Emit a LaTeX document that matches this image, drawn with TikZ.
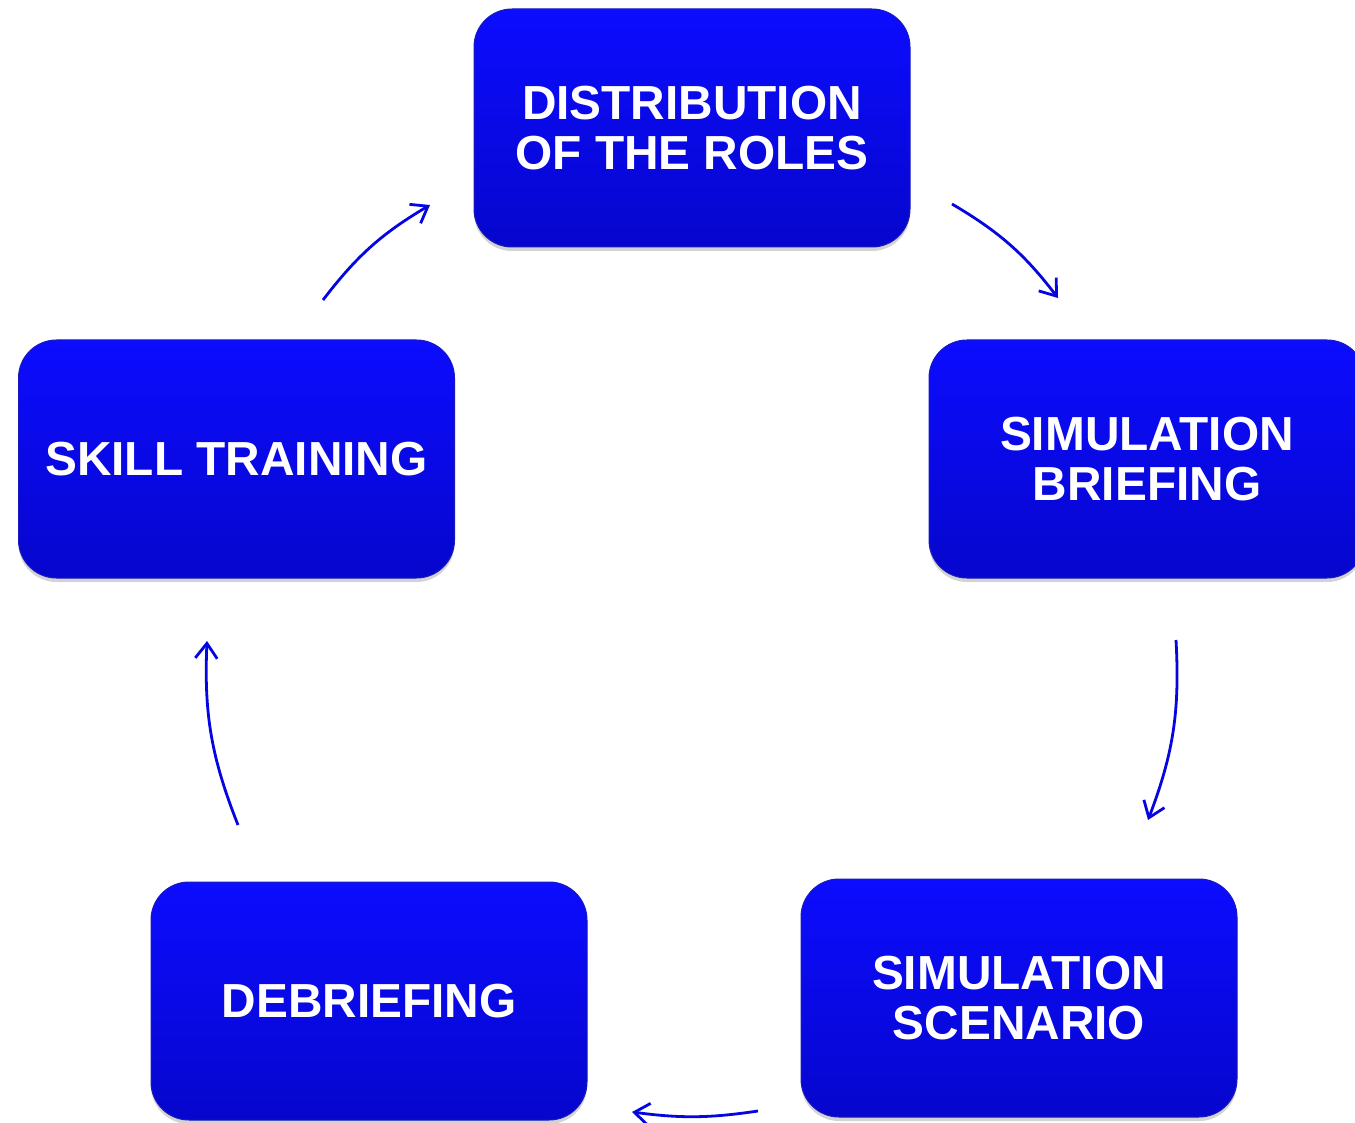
\documentclass[tikz,border=0pt]{standalone}
\usepackage{fontspec}
\setmainfont{Liberation Sans}
\usetikzlibrary{arrows.meta,shadows}
\definecolor{boxtop}{RGB}{12,12,255}
\definecolor{boxbot}{RGB}{6,6,205}
\definecolor{boxedge}{RGB}{25,25,190}
\definecolor{arrowc}{RGB}{5,5,225}
\tikzset{
  stagebox/.style={rounded corners=38pt, minimum width=436pt, minimum height=238pt,
    top color=boxtop, bottom color=boxbot, draw=boxedge, line width=1pt,
    drop shadow={opacity=0.35, shadow xshift=0pt, shadow yshift=-4pt},
    text=white, align=center, inner sep=0pt,
    font=\fontsize{47.8}{50}\selectfont\bfseries},
  cyclearrow/.style={draw=arrowc, line width=2.8pt,
    -{Straight Barb[length=15pt,width=22pt,line width=2.8pt]}}
}
\begin{document}
\begin{tikzpicture}[x=1pt,y=-1pt]
\useasboundingbox (0,0) rectangle (1355,1123);
\node[stagebox] (roles) at (692,128) {DISTRIBUTION\\OF THE ROLES};
\node[stagebox] (brief) at (1147,459) {SIMULATION\\BRIEFING};
\node[stagebox] (scen) at (1019,998) {SIMULATION\\SCENARIO};
\node[stagebox] (debrief) at (369,1001) {DEBRIEFING};
\node[stagebox] (skill) at (236.5,459) {SKILL TRAINING};

\coordinate (a1s) at (952,204);
\coordinate (a1e) at (1058,298);
\coordinate (a2s) at (1176,640);
\coordinate (a2e) at (1148,820);
\coordinate (a3s) at (758,1111);
\coordinate (a3e) at (632,1112);
\coordinate (a4s) at (238,825);
\coordinate (a4e) at (207,641);
\coordinate (a5s) at (323,300);
\coordinate (a5e) at (430,205);

\draw[cyclearrow] (a1s) to[bend left=11] (a1e);
\draw[cyclearrow] (a2s) to[bend left=12] (a2e);
\draw[cyclearrow] (a3s) to[bend left=8] (a3e);
\draw[cyclearrow] (a4s) to[bend left=12] (a4e);
\draw[cyclearrow] (a5s) to[bend left=11] (a5e);
\end{tikzpicture}
\end{document}
